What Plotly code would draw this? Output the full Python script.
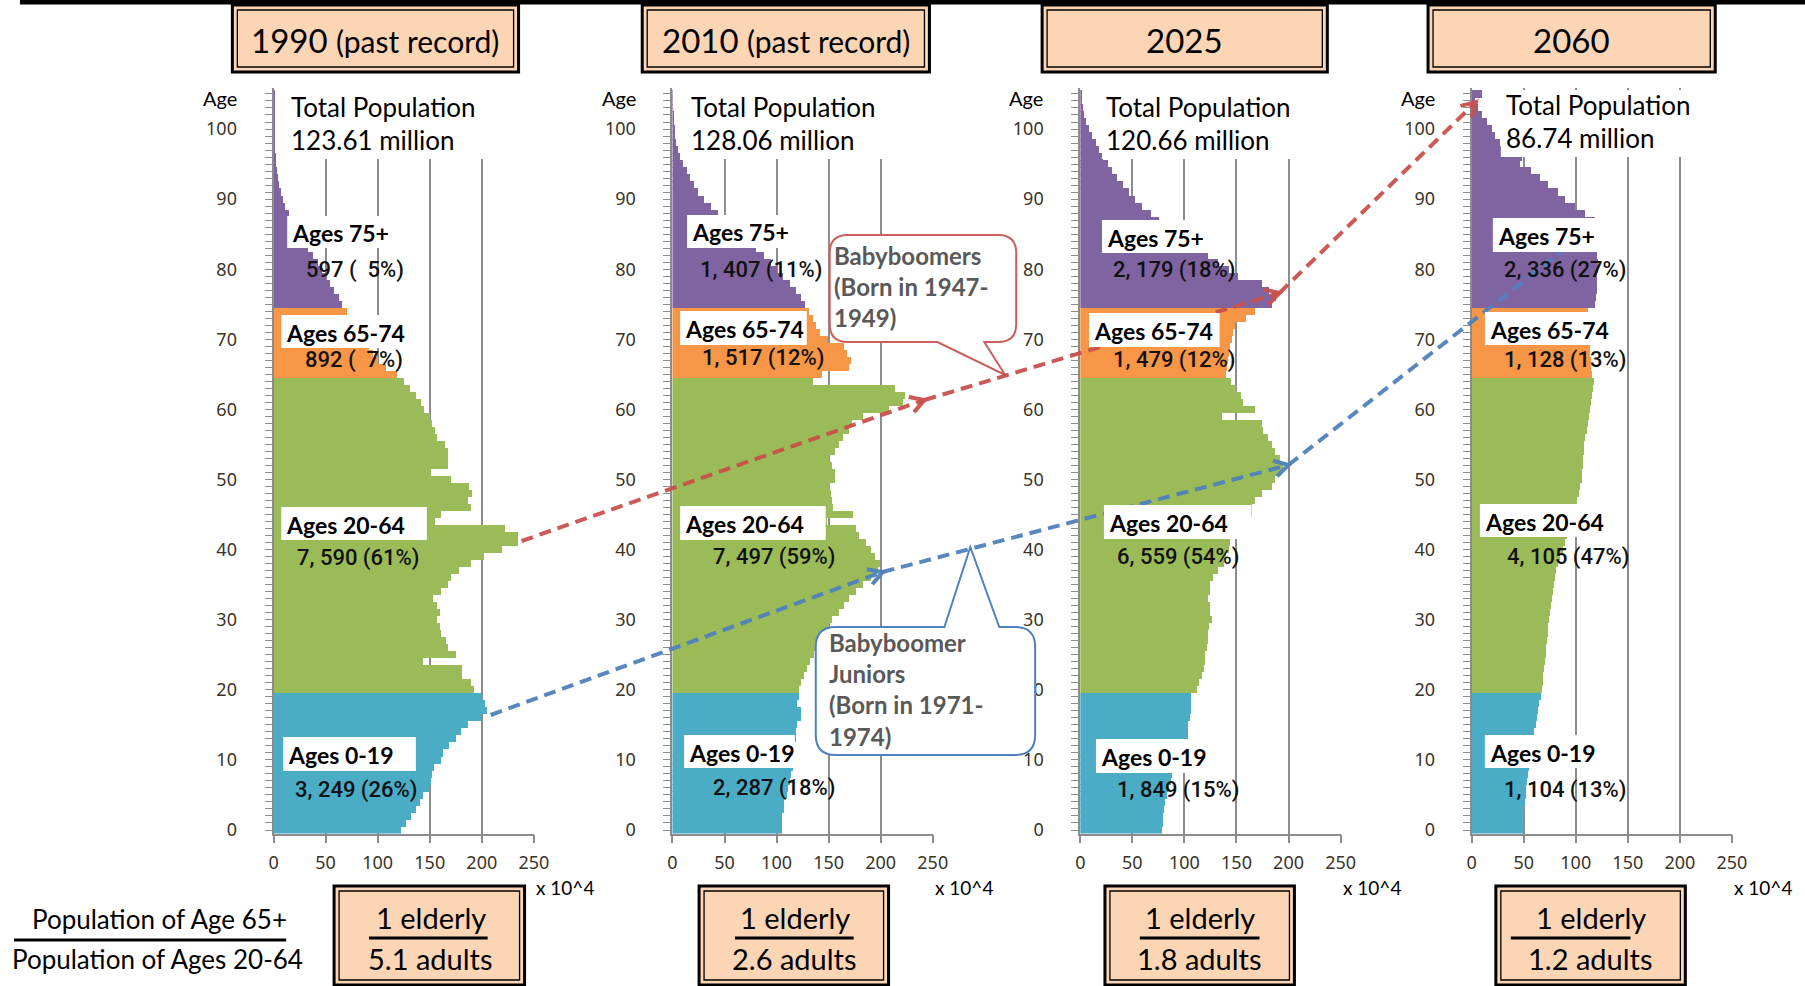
import math
import plotly.graph_objects as go

W, H = 1805, 986          # reference coordinate system (pixels)
FIG_W, FIG_H = 1820, 994  # figure size (compensates the ~0.992 photo scaling)

# ---------------- data (values in units of 10^4 people) ----------------
ages = list(range(0, 106))
year_labels = ["1990", "2010", "2025", "2060"]
year_notes = ["(past record)", "(past record)", "", ""]
total_population = ["123.61", "128.06", "120.66", "86.74"]

pop_1990 = [
    122, 127, 132, 136, 140, 143, 149, 151, 152, 154,
    160, 162, 168, 175, 180, 186, 199, 205, 203, 199,
    192, 189, 181, 181, 143, 175, 167, 165, 160, 159,
    157, 159, 157, 153, 160, 167, 170, 178, 189, 202,
    219, 234, 234, 222, 155, 160, 189, 186, 190, 187,
    170, 151, 167, 167, 167, 164, 157, 155, 152, 150,
    144, 141, 136, 131, 125, 118, 108, 100, 95, 91,
    87, 82, 78, 73, 70, 65, 62, 58, 54, 50,
    46, 42, 37, 33, 28, 24, 20, 17, 14, 11,
    8.5, 6.5, 5, 3.7, 2.6, 1.8, 1.2, 0.8, 0.5, 0.3,
    0.2, 0.1, 0.1, 0.05, 0.02, 0.01]

pop_2010 = [
    106, 106, 106, 108, 108, 110, 111, 113, 114, 116,
    116, 117, 117, 119, 119, 120, 124, 124, 120, 122,
    122, 124, 127, 130, 133, 136, 140, 143, 146, 151,
    154, 160, 165, 170, 177, 183, 191, 198, 200, 195,
    191, 186, 180, 177, 149, 174, 155, 154, 153, 152,
    157, 157, 154, 151, 157, 160, 164, 170, 173, 183,
    208, 222, 224, 214, 135, 144, 170, 172, 168, 165,
    150, 142, 138, 135, 132, 128, 124, 119, 113, 107,
    101, 95, 88, 81, 74, 66, 59, 51, 44, 37,
    31, 25, 21, 17, 14, 11, 8, 6, 4, 3,
    2.5, 1.6, 1, 0.6, 0.3, 0.2]

pop_2025 = [
    79, 80, 80, 81, 82, 84, 85, 87, 88, 90,
    95, 99, 102, 104, 104, 104, 106, 107, 107, 107,
    112, 114, 117, 119, 120, 120, 122, 123, 123, 124,
    127, 125, 125, 123, 125, 125, 128, 133, 138, 140,
    143, 144, 148, 151, 156, 165, 165, 168, 175, 184,
    187, 193, 195, 192, 187, 184, 181, 176, 175, 136,
    168, 157, 155, 150, 145, 140, 141, 142, 143, 144,
    146, 147, 149, 159, 168, 184, 188, 182, 175, 152,
    143, 133, 123, 113, 104, 92, 83, 76, 68, 60,
    53, 47, 41, 36, 31, 27, 22, 18, 15, 12,
    9, 6, 4, 3, 2, 1]

pop_2060 = [
    49, 49, 50, 50, 51, 52, 52, 53, 54, 55,
    55, 56, 57, 58, 60, 61, 62, 63, 64, 66,
    67, 68, 68, 69, 70, 71, 71, 72, 73, 73,
    74, 75, 76, 77, 78, 79, 80, 81, 83, 85,
    87, 89, 91, 93, 95, 97, 99, 101, 103, 104,
    106, 106, 107, 107, 108, 108, 109, 110, 111, 112,
    113, 114, 115, 116, 117, 115, 114, 114, 113, 113,
    112, 112, 112, 111, 111, 118, 119, 120, 120, 120,
    121, 121, 120, 120, 120, 120, 120, 118, 109, 99,
    89, 83, 73, 65, 57, 46, 48, 40, 27, 22,
    19, 14, 10, 6, 3, 10]

group_names = ["Ages 0-19", "Ages 20-64", "Ages 65-74", "Ages 75+"]
total_0_19 = [3249, 2287, 1849, 1104]
pct_0_19 = [26, 18, 15, 13]
total_20_64 = [7590, 7497, 6559, 4105]
pct_20_64 = [61, 59, 54, 47]
total_65_74 = [892, 1517, 1479, 1128]
pct_65_74 = [7, 12, 12, 13]
total_75p = [597, 1407, 2179, 2336]
pct_75p = [5, 11, 18, 27]
adults_per_elderly = ["5.1", "2.6", "1.8", "1.2"]
callout_boomers = ["Babyboomers", "(Born in 1947-", "1949)"]
callout_juniors = ["Babyboomer", "Juniors", "(Born in 1971-", "1974)"]
x_ticks = [0, 50, 100, 150, 200, 250]
y_ticks = [0, 10, 20, 30, 40, 50, 60, 70, 80, 90, 100]

# ---------------- styling / layout geometry ----------------
C_BLUE, C_GREEN, C_ORANGE, C_PURPLE = "#4BACC6", "#9BBB59", "#F79646", "#8064A2"
group_ranges = [(0, 19, C_BLUE), (20, 64, C_GREEN), (65, 74, C_ORANGE), (75, 105, C_PURPLE)]
PEACH = "#FCD5B5"
GRID = "#8c8c8c"
TICKC = "#3a3328"
CAL = "Lato, Carlito, Calibri, sans-serif"
NARROW = "Roboto, Liberation Sans, sans-serif"
TICKF = "Noto Sans, Open Sans, sans-serif"

panel_x0 = [269.3, 669.3, 1078.3, 1470.7]
plot_w = 261
y_top_px, y_bot_px = 88, 833.5


def X(px):
    return px / W


def Y(py):
    return 1 - py / H


fig = go.Figure()
series = [pop_1990, pop_2010, pop_2025, pop_2060]
for p, vals in enumerate(series):
    xa = "x" if p == 0 else f"x{p+1}"
    ya = "y" if p == 0 else f"y{p+1}"
    for lo, hi, col in group_ranges:
        fig.add_trace(go.Bar(
            x=vals[lo:hi + 1], y=ages[lo:hi + 1], orientation="h",
            marker=dict(color=col, line=dict(width=0)), width=1.03,
            xaxis=xa, yaxis=ya, showlegend=False, hoverinfo="skip"))

layout = dict(
    width=FIG_W, height=FIG_H, margin=dict(l=0, r=0, t=0, b=0),
    paper_bgcolor="white", plot_bgcolor="rgba(0,0,0,0)",
    barmode="overlay", bargap=0, showlegend=False,
)
for p, x0 in enumerate(panel_x0):
    n = "" if p == 0 else str(p + 1)
    layout[f"xaxis{n}"] = dict(
        domain=[X(x0), X(x0 + plot_w)], range=[0, 250], anchor=f"y{n}",
        tickmode="array", tickvals=x_ticks, ticks="outside", ticklen=8, tickwidth=1.5,
        tickcolor=GRID, showline=True, linecolor=GRID, linewidth=1.5,
        showgrid=True, gridcolor=GRID, gridwidth=1.6, zeroline=False,
        tickfont=dict(family=TICKF, size=18, color=TICKC), ticklabelstandoff=4,
        fixedrange=True)
    layout[f"yaxis{n}"] = dict(
        domain=[Y(y_bot_px), Y(y_top_px)], range=[-0.5, 105.85], anchor=f"x{n}",
        tickmode="array", tickvals=y_ticks, ticks="outside", ticklen=7, tickwidth=1,
        tickcolor=GRID, showline=True, linecolor=GRID, linewidth=2,
        minor=dict(tickmode="linear", tick0=0, dtick=1, ticks="outside", ticklen=7,
                   tickwidth=1, tickcolor=GRID, showgrid=False),
        showgrid=False, zeroline=False,
        tickfont=dict(family=TICKF, size=18, color=TICKC), ticklabelstandoff=24,
        fixedrange=True)
fig.update_layout(**layout)

shapes = []
annots = []


def rect(x0, y0, x1, y1, fill=None, lc=None, lw=0):
    shapes.append(dict(type="rect", xref="paper", yref="paper",
                       x0=X(x0), x1=X(x1), y0=Y(y1), y1=Y(y0),
                       fillcolor=fill if fill else "rgba(0,0,0,0)",
                       line=dict(color=lc if lc else "rgba(0,0,0,0)", width=lw),
                       layer="above"))


def line(x0, y0, x1, y1, color, width, dash="solid"):
    shapes.append(dict(type="line", xref="paper", yref="paper",
                       x0=X(x0), y0=Y(y0), x1=X(x1), y1=Y(y1),
                       line=dict(color=color, width=width, dash=dash), layer="above"))


def path(pts_cmds, fill, lc, lw):
    shapes.append(dict(type="path", xref="paper", yref="paper", path=pts_cmds,
                       fillcolor=fill, line=dict(color=lc, width=lw), layer="above"))


def P(x, y):
    return f"{X(x):.6f},{Y(y):.6f}"


def text(x, y, s, size, color="black", family=CAL, xanchor="center", yanchor="middle",
         bold=False, weight=None, align="center"):
    if bold:
        s = f"<b>{s}</b>"
    f = dict(family=family, size=size, color=color)
    if weight:
        f["weight"] = weight
    annots.append(dict(xref="paper", yref="paper", x=X(x), y=Y(y), text=s,
                       showarrow=False, xanchor=xanchor, yanchor=yanchor, align=align,
                       font=f))


# top frame line
line(15, 2, W, 2, "black", 5)

# title boxes
title_boxes = [(228, 5, 515, 72), (639, 5, 927, 72), (1040, 5, 1326, 72), (1427, 5, 1715, 72)]
for (bx0, by0, bx1, by1), yr, note in zip(title_boxes, year_labels, year_notes):
    rect(bx0, by0, bx1, by1, fill=PEACH, lc="black", lw=3)
    rect(bx0 + 5, by0 + 5, bx1 - 5, by1 - 5, lc="black", lw=1.3)
    label = yr if not note else f"{yr} <span style='font-size:30px'>{note}</span>"
    text((bx0 + bx1) / 2, (by0 + by1) / 2 + 1, label, 33)

# callout balloons (drawn before the dashed arrows)
L, R, T, B, r = 827, 1014, 235, 342, 18
bb = (f"M{P(L + r, T)} L{P(R - r, T)} Q{P(R, T)} {P(R, T + r)} L{P(R, B - r)} "
      f"Q{P(R, B)} {P(R - r, B)} L{P(982, B)} L{P(1003, 375)} L{P(935, B)} "
      f"L{P(L + r, B)} Q{P(L, B)} {P(L, B - r)} L{P(L, T + r)} Q{P(L, T)} {P(L + r, T)} Z")
path(bb, "white", "#C9605C", 2)
L, R, T, B, r = 813, 1033, 627, 755, 20
bj = (f"M{P(L + r, T)} L{P(942, T)} L{P(968, 547)} L{P(997, T)} L{P(R - r, T)} "
      f"Q{P(R, T)} {P(R, T + r)} L{P(R, B - r)} Q{P(R, B)} {P(R - r, B)} "
      f"L{P(L + r, B)} Q{P(L, B)} {P(L, B - r)} L{P(L, T + r)} Q{P(L, T)} {P(L + r, T)} Z")
path(bj, "white", "#4F81BD", 2)

# dashed cohort arrows
RED = "rgba(200,80,77,0.95)"
BLUE = "rgba(79,129,189,0.95)"
red_pts = [(518, 541), (922, 400), (1278, 293), (1475, 102)]
blue_pts = [(487, 715), (880, 572), (1287, 465), (1582, 235)]
for pts, col, heads in [(red_pts, RED, [1, 2, 3]), (blue_pts, BLUE, [1, 2])]:
    for i in range(len(pts) - 1):
        line(pts[i][0], pts[i][1], pts[i + 1][0], pts[i + 1][1], col, 4, "12px,7px")
    for k in heads:
        tx, ty = pts[k]
        fx, fy = pts[k - 1]
        d = math.hypot(tx - fx, ty - fy)
        ux, uy = (tx - fx) / d, (ty - fy) / d
        size, ang = 16, math.radians(30)
        wings = []
        for s in (1, -1):
            c, sn = math.cos(s * ang), math.sin(s * ang)
            vx, vy = ux * c - uy * sn, ux * sn + uy * c
            wings.append((tx - size * vx, ty - size * vy))
        path(f"M{P(*wings[0])} L{P(tx, ty)} L{P(*wings[1])}", "rgba(0,0,0,0)", col, 4)

# white backgrounds: "Total Population" blocks
tp_bg = [(283, 86, 485, 159), (685, 86, 885, 159), (1100, 86, 1293, 159), (1500, 90, 1708, 157)]
for bx0, by0, bx1, by1 in tp_bg:
    rect(bx0, by0, bx1, by1, fill="white")
tp_x = [285, 686, 1102, 1503]
tp_y = [107, 107, 107, 105]
for tx, ty, tot in zip(tp_x, tp_y, total_population):
    text(tx, ty, "Total Population", 26, xanchor="left")
    text(tx, ty + 33, f"{tot} million", 26, xanchor="left")

# group label boxes (left, top, right, bottom) per panel
box_75 = [(283, 216, 388, 248), (684, 215, 787, 248), (1100, 220, 1212, 253), (1492, 218, 1598, 252)]
box_6574 = [(277, 315, 401, 348), (677, 311, 804, 345), (1087, 313, 1218, 347), (1484, 312, 1612, 345)]
box_2064 = [(277, 507, 423, 540), (677, 506, 823, 540), (1102, 505, 1250, 539), (1479, 504, 1625, 537)]
box_019 = [(279, 737, 412, 771), (681, 735, 792, 768), (1094, 739, 1203, 773), (1484, 735, 1593, 768)]
num_pos_75 = [(351, 270), (758, 270), (1172, 270), (1564, 270)]
num_pos_6574 = [(350, 360), (760, 358), (1172, 360), (1564, 360)]
num_pos_2064 = [(354, 558), (771, 557), (1176, 557), (1567, 557)]
num_pos_019 = [(352, 790), (771, 788), (1176, 790), (1564, 790)]


def fmt(n, pct):
    s = f"{n:,}".replace(",", ", ")
    ps = f"{pct}%" if pct >= 10 else f"\u00a0\u00a0{pct}%"
    return f"{s}\u00a0({ps})"


groups = [
    (group_names[3], box_75, num_pos_75, total_75p, pct_75p),
    (group_names[2], box_6574, num_pos_6574, total_65_74, pct_65_74),
    (group_names[1], box_2064, num_pos_2064, total_20_64, pct_20_64),
    (group_names[0], box_019, num_pos_019, total_0_19, pct_0_19),
]
for gname, boxes, npos, tots, pcts in groups:
    for p in range(4):
        bx0, by0, bx1, by1 = boxes[p]
        rect(bx0, by0, bx1, by1, fill="white")
        text(bx0 + 3, (by0 + by1) / 2 + 1, gname, 23, xanchor="left", bold=True)
        nx, ny = npos[p]
        text(nx, ny, fmt(tots[p], pcts[p]), 22, color="#111111", family=NARROW, weight=500)

# "Age" labels and "x 10^4" unit labels
for x0 in panel_x0:
    text(x0 - 35, 98, "Age", 20, xanchor="right")
    text(x0 + plot_w, 887, "x 10^4", 19, xanchor="left")

# callout texts (one block per balloon)
text(829, 287, "<br>".join(callout_boomers), 24, color="#595959", xanchor="left",
     bold=True, align="left")
text(824, 689, "<br>".join(callout_juniors), 24, color="#595959", xanchor="left",
     bold=True, align="left")

# bottom ratio boxes
ratio_boxes = [(330, 886, 521, 985), (696, 886, 886, 985), (1103, 886, 1293, 985), (1495, 886, 1685, 985)]
ratio_lines = [(365, 484), (732, 851), (1138, 1258), (1510, 1630)]
ratio_cx = [427, 792, 1198, 1590]
for (bx0, by0, bx1, by1), (lx0, lx1), cx, ad in zip(ratio_boxes, ratio_lines, ratio_cx, adults_per_elderly):
    rect(bx0, by0, bx1, by1, fill=PEACH, lc="black", lw=3)
    rect(bx0 + 5, by0 + 5, bx1 - 5, by1 - 5, lc="black", lw=1.3)
    text(cx, 917, "1 elderly", 29)
    line(lx0, 938, lx1, 938, "black", 3)
    text(cx, 958, f"{ad} adults", 29)

# left fraction legend
text(155, 919, "Population of Age 65+", 26)
line(9, 940, 282, 940, "black", 3)
text(153, 959, "Population of Ages 20-64", 26)

fig.update_layout(shapes=shapes, annotations=annots)
fig.write_html(
    "out.html",
    post_script=(
        "document.documentElement.style.margin='0';document.body.style.margin='0';"
        "document.documentElement.style.overflow='hidden';document.body.style.overflow='hidden';"
        "var gd=document.querySelector('.plotly-graph-div');"
        "gd.style.position='fixed';gd.style.left='0px';gd.style.top='0px';"
    ),
)
